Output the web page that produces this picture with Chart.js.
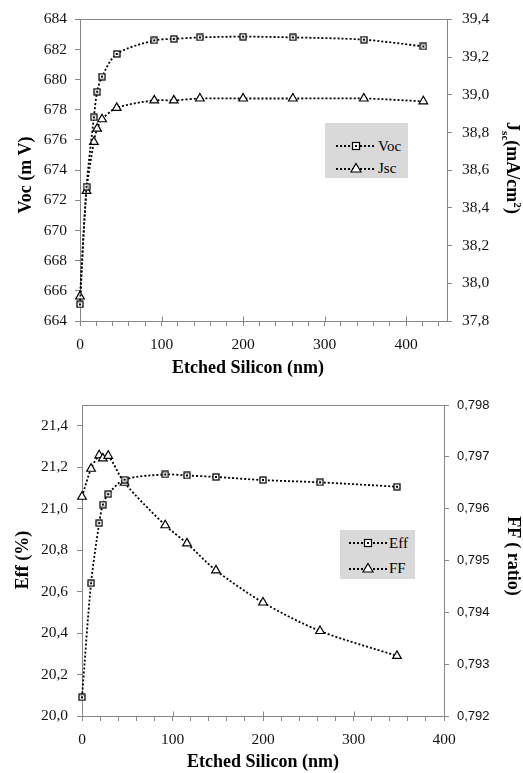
<!DOCTYPE html>
<html>
<head>
<meta charset="utf-8">
<script src="https://cdn.jsdelivr.net/npm/chart.js@4.4.1/dist/chart.umd.min.js"></script>
<style>
  html, body { margin: 0; padding: 0; background: #fff; }
  #page { position: relative; width: 523px; height: 773px; overflow: hidden;
          font-family: "Liberation Serif", "Times New Roman", serif; color: #000; }
  #page canvas { position: absolute; left: 0; }
  .title { position: absolute; font-weight: bold; font-size: 18px; white-space: nowrap;
           line-height: 1; transform: translate(-50%, -50%); }
  .title.up { transform: translate(-50%, -50%) rotate(-90deg); }
  .title.down { transform: translate(-50%, -50%) rotate(90deg); }
  .title sub, .title sup { font-size: 62%; line-height: 0; }
  .legend { position: absolute; background: #d9d9d9; font-size: 15px; }
  .legend .row { position: absolute; display: flex; align-items: center; height: 16px; }
  .legend svg { display: block; margin-right: 2px; }
</style>
</head>
<body>
<div id="page">
  <canvas id="topChart" width="523" height="386" style="top:0;width:523px;height:386px"></canvas>
  <canvas id="bottomChart" width="523" height="387" style="top:386px;width:523px;height:387px"></canvas>

  <div class="title" style="left:248px;top:367px">Etched Silicon (nm)</div>
  <div class="title up" style="left:25px;top:175px">Voc (m V)</div>
  <div class="title down" style="left:513px;top:168px">J<sub>sc</sub>(mA/cm<sup>2</sup>)</div>

  <div class="title" style="left:263px;top:761px">Etched Silicon (nm)</div>
  <div class="title up" style="left:22px;top:560px">Eff (%)</div>
  <div class="title down" style="left:514px;top:556px">FF ( ratio)</div>

  <div class="legend" style="left:325px;top:123px;width:83px;height:55px">
    <div class="row" style="left:11px;top:15px">
      <svg width="40" height="12"><line x1="0" y1="6" x2="40" y2="6" stroke="#000" stroke-width="1.8" stroke-dasharray="2 2"/><rect x="16.5" y="2.5" width="7" height="7" fill="#fff" stroke="#000" stroke-width="1.2"/><rect x="19" y="5" width="2" height="2" fill="#000"/></svg>
      <span>Voc</span>
    </div>
    <div class="row" style="left:11px;top:37px">
      <svg width="40" height="12"><line x1="0" y1="7" x2="40" y2="7" stroke="#000" stroke-width="1.8" stroke-dasharray="2 2"/><polygon points="20,1.5 25,10 15,10" fill="#fff" stroke="#000" stroke-width="1.2"/></svg>
      <span>Jsc</span>
    </div>
  </div>

  <div class="legend" style="left:340px;top:530px;width:75px;height:49px">
    <div class="row" style="left:9px;top:5px">
      <svg width="38" height="12"><line x1="0" y1="6" x2="38" y2="6" stroke="#000" stroke-width="1.8" stroke-dasharray="2 2"/><rect x="15.5" y="2.5" width="7" height="7" fill="#fff" stroke="#000" stroke-width="1.2"/><rect x="18" y="5" width="2" height="2" fill="#000"/></svg>
      <span>Eff</span>
    </div>
    <div class="row" style="left:9px;top:30px">
      <svg width="38" height="12"><line x1="0" y1="7" x2="38" y2="7" stroke="#000" stroke-width="1.8" stroke-dasharray="2 2"/><polygon points="19,1.5 24,10 14,10" fill="#fff" stroke="#000" stroke-width="1.2"/></svg>
      <span>FF</span>
    </div>
  </div>
</div>

<script>
// Etched silicon depth (nm) and the measured cell parameters
const etchTop = [0, 8, 17, 21, 27, 45, 91, 115, 147, 200, 261, 348, 421];
const vocMV   = [665.1, 672.9, 677.5, 679.2, 680.2, 681.7, 682.6, 682.7, 682.8, 682.85, 682.8, 682.65, 682.2];
const jscMA   = [37.93, 38.49, 38.75, 38.82, 38.87, 38.93, 38.97, 38.97, 38.98, 38.98, 38.98, 38.98, 38.965];

const etchBottom = [0, 10, 19, 23, 29, 47, 92, 116, 148, 200, 263, 348];
const effPct     = [20.09, 20.64, 20.93, 21.02, 21.07, 21.14, 21.165, 21.16, 21.153, 21.138, 21.127, 21.106];
const ffRatio    = [0.79623, 0.79677, 0.79703, 0.79697, 0.79702, 0.7965, 0.79568, 0.79533, 0.79481, 0.79419, 0.79364, 0.79316];

const AXIS_GREY = '#868686';
const SERIF = '"Liberation Serif", "Times New Roman", serif';
const SANS = '"Liberation Sans", Arial, sans-serif';

// hollow square marker with a centre dot
function squareMarker() {
  const c = document.createElement('canvas');
  c.width = 8; c.height = 8;
  const g = c.getContext('2d');
  g.fillStyle = '#fff'; g.fillRect(1, 1, 6, 6);
  g.strokeStyle = '#000'; g.lineWidth = 1.25; g.strokeRect(1, 1, 6, 6);
  g.fillStyle = '#000'; g.fillRect(3, 3, 2, 2);
  return c;
}
const SQUARE = squareMarker();

const toXY = (xs, ys) => xs.map((x, i) => ({ x, y: ys[i] }));
const comma = (v, d) => v.toFixed(d).replace('.', ',');

function series(label, xs, ys, axis, marker) {
  const base = {
    label, data: toXY(xs, ys), yAxisID: axis, clip: false,
    borderColor: '#000', borderWidth: 1.8, borderDash: [2, 2],
    tension: 0.3, fill: false
  };
  if (marker === 'square') {
    return Object.assign(base, { pointStyle: SQUARE, pointRadius: 4 });
  }
  return Object.assign(base, {
    pointStyle: 'triangle', pointRadius: 5, pointBorderWidth: 1.2,
    pointBackgroundColor: '#fff', pointBorderColor: '#000'
  });
}

// plot frame plus the major x ticks that cross into the plot
const framePlugin = {
  id: 'plotFrame',
  beforeDatasetsDraw(chart) {
    const { ctx, chartArea: a } = chart;
    const l = Math.round(a.left) + 0.5, t = Math.round(a.top) + 0.5;
    const r = Math.round(a.right) + 0.5, b = Math.round(a.bottom) + 0.5;
    ctx.save();
    ctx.strokeStyle = AXIS_GREY;
    ctx.lineWidth = 1;
    ctx.strokeRect(l, t, r - l, b - t);
    const xs = chart.scales.x;
    ctx.beginPath();
    xs.ticks.forEach(tk => {
      if (tk.value % 100 === 0) {
        const px = Math.round(xs.getPixelForValue(tk.value)) + 0.5;
        ctx.moveTo(px, b);
        ctx.lineTo(px, b - 5);
      }
    });
    ctx.stroke();
    ctx.restore();
  }
};

function gridOpts() {
  return { display: true, drawOnChartArea: false, drawTicks: true, tickLength: 5,
           color: AXIS_GREY, tickColor: AXIS_GREY, lineWidth: 1 };
}

function xAxis(max, height) {
  return {
    type: 'linear', position: 'bottom', min: 0, max, bounds: 'data',
    grid: gridOpts(), border: { display: false },
    ticks: {
      stepSize: 20, includeBounds: false, autoSkip: false, maxRotation: 0,
      padding: 10, color: '#111', font: { family: SERIF, size: 15.5 },
      callback: v => (v % 100 === 0 ? String(v) : '')
    },
    afterBuildTicks: s => { s.ticks = s.ticks.filter(t => (t.value % 20) === 0); },
    afterFit: s => { s.height = height; }
  };
}

function yAxis(pos, min, max, step, lastTick, digits, width, font, pad) {
  return {
    type: 'linear', position: pos, min, max, bounds: 'data',
    grid: gridOpts(), border: { display: false },
    ticks: {
      stepSize: step, includeBounds: false, padding: pad, color: '#111', font,
      callback: v => comma(v, digits)
    },
    afterBuildTicks: s => { s.ticks = s.ticks.filter(t => t.value <= lastTick + step / 100); },
    afterFit: s => { s.width = width; }
  };
}

function baseOptions(padTop) {
  return {
    responsive: false, maintainAspectRatio: false, animation: false,
    layout: { padding: { top: padTop, left: 0, right: 0, bottom: 0 } },
    plugins: { legend: { display: false }, tooltip: { enabled: false } }
  };
}

new Chart(document.getElementById('topChart'), {
  type: 'line',
  data: {
    datasets: [
      series('Voc', etchTop, vocMV, 'y', 'square'),
      series('Jsc', etchTop, jscMA, 'y1', 'triangle')
    ]
  },
  options: Object.assign(baseOptions(11), {
    scales: {
      x: xAxis(450, 65),
      y: yAxis('left', 664, 684, 2, 684, 0, 80, { family: SERIF, size: 15.5 }, 8),
      y1: yAxis('right', 37.8, 39.4, 0.2, 39.4, 1, 76, { family: SERIF, size: 15.5 }, 10)
    }
  }),
  plugins: [framePlugin]
});

new Chart(document.getElementById('bottomChart'), {
  type: 'line',
  data: {
    datasets: [
      series('Eff', etchBottom, effPct, 'y', 'square'),
      series('FF', etchBottom, ffRatio, 'y1', 'triangle')
    ]
  },
  options: Object.assign(baseOptions(19), {
    scales: {
      x: xAxis(400, 57),
      y: yAxis('left', 20, 21.5, 0.2, 21.4, 1, 82, { family: SERIF, size: 15.5 }, 9),
      y1: yAxis('right', 0.792, 0.798, 0.001, 0.798, 3, 79, { family: SANS, size: 13 }, 8)
    }
  }),
  plugins: [framePlugin]
});
</script>
</body>
</html>
